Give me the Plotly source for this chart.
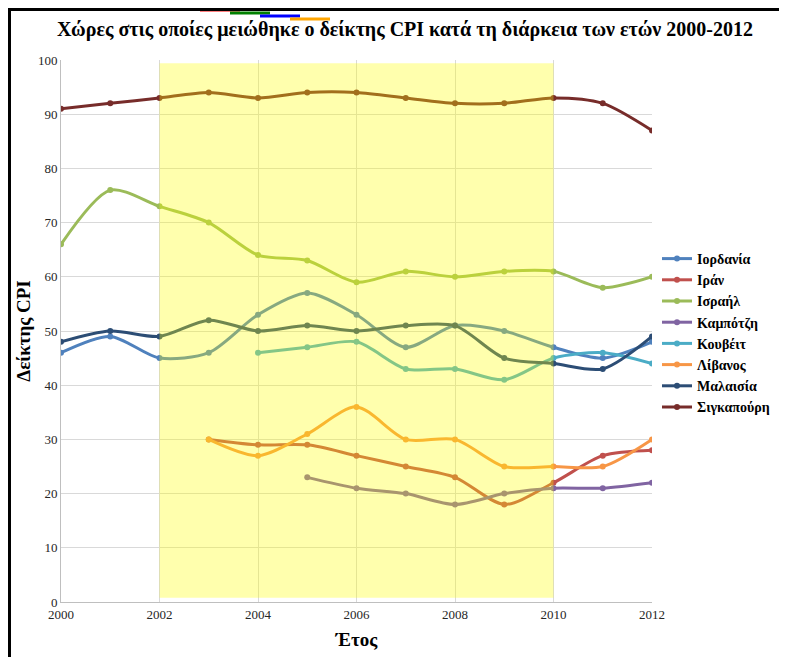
import plotly.graph_objects as go

years = list(range(2000, 2013))

jordan = [46, 49, 45, 46, 53, 57, 53, 47, 51, 50, 47, 45, 48]
iran = [None, None, None, 30, 29, 29, 27, 25, 23, 18, 22, 27, 28]
israel = [66, 76, 73, 70, 64, 63, 59, 61, 60, 61, 61, 58, 60]
cambodia = [None, None, None, None, None, 23, 21, 20, 18, 20, 21, 21, 22]
kuwait = [None, None, None, None, 46, 47, 48, 43, 43, 41, 45, 46, 44]
lebanon = [None, None, None, 30, 27, 31, 36, 30, 30, 25, 25, 25, 30]
malaysia = [48, 50, 49, 52, 50, 51, 50, 51, 51, 45, 44, 43, 49]
singapore = [91, 92, 93, 94, 93, 94, 94, 93, 92, 92, 93, 92, 87]

series_names = ["Ιορδανία", "Ιράν", "Ισραήλ", "Καμπότζη", "Κουβέιτ", "Λίβανος", "Μαλαισία", "Σιγκαπούρη"]
series_values = [jordan, iran, israel, cambodia, kuwait, lebanon, malaysia, singapore]
series_colors = ["#4F81BD", "#C0504D", "#9BBB59", "#8064A2", "#4BACC6", "#F79646", "#2C4D75", "#772C2A"]

band_start, band_end = 2002, 2010

serif = "Liberation Serif, Times New Roman, serif"

fig = go.Figure()
for name, vals, col in zip(series_names, series_values, series_colors):
    xs = [y for y, v in zip(years, vals) if v is not None]
    ys = [v for v in vals if v is not None]
    fig.add_trace(go.Scatter(
        x=xs, y=ys, name="<b>" + name + "</b>", mode="lines+markers",
        line=dict(color=col, width=3, shape="spline", smoothing=0.8),
        marker=dict(color=col, size=6),
    ))

OFF = 8
W, H = 787 - OFF, 657 - OFF
L, T = 61 - OFF, 60 - OFF
pw, ph = 591, 542
R, B = W - L - pw, H - T - ph

def px(x):
    return (x - 61) / pw

def py(y):
    return (602 - y) / ph

fig.add_shape(type="rect", xref="x", yref="y", x0=band_start, x1=band_end, y0=0.8, y1=99.4,
              fillcolor="rgb(255,255,0)", opacity=0.32, line=dict(width=0), layer="above")

# diagnostic lines at several window heights
for yy, c in [(10, "red"), (13, "green"), (16, "blue"), (19, "orange")]:
    fig.add_shape(type="line", xref="paper", yref="paper", x0=px(100 + yy * 10), x1=px(140 + yy * 10),
                  y0=py(yy), y1=py(yy), line=dict(color=c, width=3), layer="above")

fig.add_shape(type="rect", xref="paper", yref="paper", x0=px(9.5), x1=px(820), y0=py(700), y1=py(9.5),
              line=dict(color="black", width=3), fillcolor="rgba(0,0,0,0)", layer="above")

fig.update_layout(
    width=W, height=H,
    margin=dict(l=L, r=R, t=T, b=B, autoexpand=False),
    paper_bgcolor="white", plot_bgcolor="white",
    font=dict(family=serif, color="#262626", size=13),
    title=dict(text="<b>Χώρες στις οποίες μειώθηκε ο δείκτης CPI κατά τη διάρκεια των ετών 2000-2012</b>",
               xref="container", x=(405 - OFF) / W, xanchor="center", yref="container",
               y=1 - (29 - OFF) / H, yanchor="middle",
               font=dict(family=serif, size=20, color="black")),
    xaxis=dict(range=[2000, 2012], tickvals=list(range(2000, 2013, 2)), ticktext=[str(v) for v in range(2000, 2013, 2)],
               showgrid=True, gridcolor="#D9D9D9", gridwidth=1, showline=True, linecolor="#BFBFBF", linewidth=1,
               zeroline=False, ticks="", tickfont=dict(size=13, color="#262626"), automargin=False,
               title=dict(text="<b>Έτος</b>", font=dict(size=19, color="black"), standoff=12)),
    yaxis=dict(range=[0, 100], tickvals=list(range(0, 101, 10)),
               showgrid=True, gridcolor="#D9D9D9", gridwidth=1, showline=True, linecolor="#BFBFBF", linewidth=1,
               zeroline=False, ticks="", tickfont=dict(size=13, color="#262626"), automargin=False,
               title=dict(text="<b>Δείκτης CPI</b>", font=dict(size=19, color="black"), standoff=2)),
    legend=dict(x=px(657), xanchor="left", y=py(333), yanchor="middle",
                font=dict(family=serif, size=14, color="black"), bgcolor="rgba(0,0,0,0)",
                itemwidth=30, tracegroupgap=0),
    showlegend=True,
)

fig.write_html("out.html", config={"displayModeBar": False})
